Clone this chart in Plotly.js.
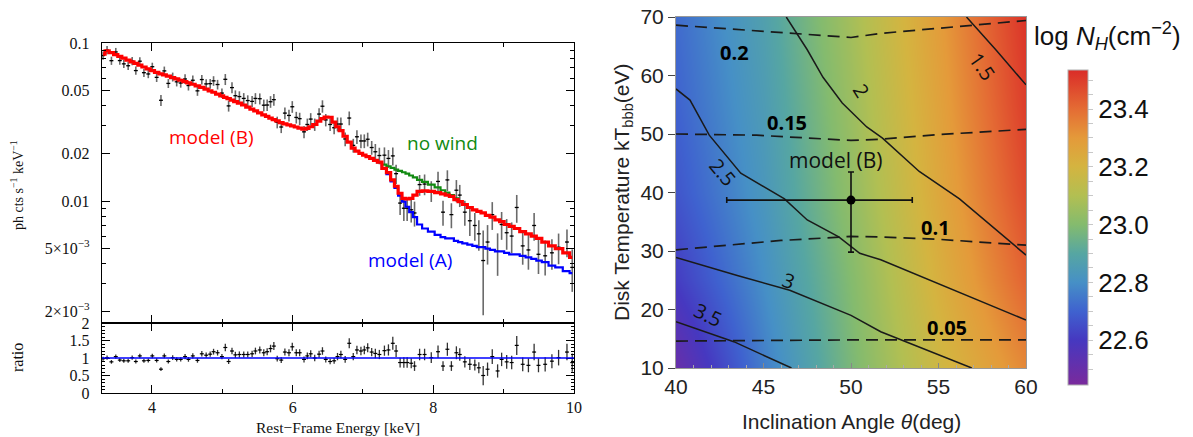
<!DOCTYPE html>
<html>
<head>
<meta charset="utf-8">
<script src="https://cdn.plot.ly/plotly-3.0.1.min.js"></script>
<style>html,body{margin:0;padding:0;background:#fff;}#chart{width:1193px;height:437px;}</style>
</head>
<body>
<div id="chart"></div>
<script>
// ---------- Left panel: spectrum (keV, ph cts s^-1 keV^-1) ----------
const energy = [
3.305,3.362,3.424,3.486,3.543,3.600,3.662,3.719,3.771,3.828,
3.886,3.948,4.005,4.067,4.128,4.176,4.233,4.295,4.352,4.409,
4.471,4.519,4.581,4.647,4.709,4.771,4.828,4.876,4.933,4.995,
5.043,5.090,5.138,5.186,5.243,5.305,5.362,5.424,5.471,5.533,
5.590,5.638,5.686,5.733,5.781,5.838,5.890,5.948,5.995,6.052,
6.100,6.162,6.209,6.257,6.314,6.376,6.424,6.471,6.533,6.590,
6.638,6.686,6.747,6.805,6.862,6.914,6.971,7.019,7.067,7.124,
7.176,7.233,7.305,7.362,7.424,7.471,7.528,7.581,7.628,7.686,
7.733,7.805,7.876,7.971,8.067,8.138,8.200,8.257,8.328,8.376,
8.448,8.519,8.590,8.647,8.709,8.771,8.838,8.914,8.971,9.043,
9.114,9.186,9.271,9.352,9.433,9.495,9.590,9.686,9.781,9.900,
9.975];
const counts = [
0.0833,0.0902,0.0773,0.0878,0.0774,0.0738,0.0718,0.0768,0.0669,0.0767,
0.0649,0.0637,0.0708,0.0606,0.0434,0.0666,0.0555,0.0610,0.0568,0.0558,
0.0592,0.0538,0.0581,0.0498,0.0587,0.0551,0.0553,0.0576,0.0546,0.0482,
0.0589,0.0400,0.0522,0.0464,0.0458,0.0446,0.0432,0.0427,0.0446,0.0444,
0.0404,0.0405,0.0425,0.0438,0.0315,0.0294,0.0360,0.0348,0.0395,0.0338,
0.0332,0.0274,0.0305,0.0330,0.0305,0.0355,0.0398,0.0326,0.0305,0.0291,
0.0307,0.0307,0.0247,0.0335,0.0225,0.0255,0.0240,0.0240,0.0246,0.0218,
0.0205,0.0194,0.0195,0.0186,0.0193,0.0149,0.0097,0.0090,0.0090,0.0088,
0.0084,0.0127,0.0128,0.0116,0.0133,0.0085,0.0136,0.0082,0.0117,0.0109,
0.0085,0.0075,0.0070,0.0062,0.0042,0.0055,0.0082,0.0048,0.0071,0.0063,
0.0060,0.0091,0.0052,0.0049,0.0070,0.0046,0.0045,0.0047,0.0051,0.0055,
0.0038];
const ratio = [
0.98,1.01,0.89,1.04,0.94,0.92,0.92,1.01,0.90,1.06,
0.92,0.93,1.06,0.93,0.68,1.06,0.90,1.01,0.96,0.96,
1.04,0.96,1.06,0.93,1.12,1.08,1.11,1.18,1.15,1.04,
1.30,0.90,1.20,1.09,1.10,1.10,1.10,1.12,1.20,1.23,
1.15,1.18,1.27,1.34,0.98,0.94,1.17,1.15,1.32,1.15,
1.15,0.96,1.06,1.12,1.00,1.11,1.20,0.96,0.90,0.92,
1.04,1.10,0.96,1.42,1.04,1.23,1.20,1.23,1.29,1.17,
1.13,1.10,1.21,1.23,1.42,1.20,0.87,0.87,0.87,0.85,
0.77,1.10,1.10,1.01,1.18,0.77,1.25,0.77,1.15,1.10,
0.89,0.82,0.80,0.72,0.50,0.68,1.04,0.63,0.96,0.89,
0.87,1.36,0.82,0.79,1.17,0.79,0.82,0.91,1.01,1.17,
0.87];
const relErr = [
0.06,0.06,0.06,0.06,0.06,0.06,0.06,0.06,0.06,0.06,
0.06,0.06,0.06,0.065,0.08,0.065,0.065,0.065,0.065,0.065,
0.07,0.07,0.07,0.07,0.07,0.07,0.07,0.07,0.07,0.07,
0.08,0.08,0.08,0.08,0.08,0.08,0.08,0.08,0.08,0.08,
0.085,0.085,0.085,0.085,0.085,0.085,0.085,0.085,0.085,0.085,
0.09,0.09,0.09,0.09,0.09,0.09,0.09,0.09,0.09,0.09,
0.10,0.10,0.10,0.10,0.10,0.10,0.10,0.10,0.10,0.10,
0.12,0.12,0.12,0.13,0.13,0.14,0.16,0.17,0.17,0.17,
0.18,0.15,0.15,0.15,0.15,0.18,0.15,0.18,0.16,0.16,
0.18,0.20,0.20,0.22,0.55,0.28,0.20,0.30,0.20,0.22,
0.22,0.20,0.24,0.25,0.20,0.25,0.25,0.22,0.22,0.20,
0.30];
const modelB = [
0.0850,0.0893,0.0868,0.0844,0.0823,0.0802,0.0780,0.0760,0.0743,0.0724,
0.0705,0.0685,0.0668,0.0652,0.0638,0.0628,0.0617,0.0604,0.0592,0.0581,
0.0569,0.0560,0.0548,0.0536,0.0524,0.0510,0.0498,0.0488,0.0475,0.0463,
0.0453,0.0444,0.0435,0.0426,0.0416,0.0405,0.0393,0.0381,0.0372,0.0361,
0.0351,0.0343,0.0335,0.0327,0.0321,0.0313,0.0308,0.0303,0.0299,0.0294,
0.0289,0.0285,0.0288,0.0295,0.0305,0.0320,0.0332,0.0340,0.0339,0.0316,
0.0295,0.0279,0.0257,0.0236,0.0216,0.0207,0.0200,0.0195,0.0191,0.0186,
0.0181,0.0176,0.0161,0.0151,0.0136,0.0124,0.0112,0.0104,0.0103,0.0104,
0.0109,0.0115,0.0116,0.0115,0.0113,0.0111,0.0109,0.0107,0.0102,0.0099,
0.0095,0.0091,0.0088,0.0086,0.0084,0.0081,0.0079,0.0076,0.0074,0.0071,
0.0069,0.0067,0.0064,0.0062,0.0060,0.0058,0.0055,0.0052,0.0050,0.0047,
0.0044];
const tailEnergy = [
7.124,7.176,7.233,7.305,7.362,7.424,7.471,7.528,7.581,7.628,
7.686,7.733,7.805,7.876,7.971,8.067,8.138,8.200,8.257,8.328,
8.376,8.448,8.519,8.590,8.647,8.709,8.771,8.838,8.914,8.971,
9.043,9.114,9.186,9.271,9.352,9.433,9.495,9.590,9.686,9.781,
9.900,9.975];
const modelA = [
0.0186,0.0181,0.0176,0.0160,0.0148,0.0133,0.0121,0.0108,0.0099,0.0092,
0.0085,0.0079,0.0071,0.0067,0.0064,0.0061,0.0059,0.0058,0.0058,0.0056,
0.0055,0.0054,0.0053,0.0052,0.0051,0.0051,0.0050,0.0049,0.0048,0.0048,
0.0047,0.0046,0.0046,0.0045,0.0044,0.0043,0.0042,0.0041,0.0039,0.0038,
0.0036,0.0035];
const noWind = [
0.0186,0.0181,0.0176,0.0170,0.0166,0.0162,0.0158,0.0155,0.0152,0.0149,
0.0145,0.0141,0.0136,0.0132,0.0127,0.0122,0.0117,0.0113,0.0109,0.0104,
0.0100,0.0095,0.0091];
const ratioRef = 1;
const specTickVals = [0.002,0.005,0.01,0.02,0.05,0.1];
const specTickText = ['2×10<sup>−3</sup>','5×10<sup>−3</sup>','0.01','0.02','0.05','0.1'];
const specMinorVals = [0.003,0.004,0.006,0.007,0.008,0.009,0.03,0.04,0.06,0.07,0.08,0.09];
const ratioTickVals = [0,0.5,1,1.5,2];
const ratioTickText = ['0','0.5','1','1.5','2'];
const energyTickVals = [4,6,8,10];

// ---------- Right panel: log N_H map ----------
const nhTheta = [40,45,50,55,60];
const nhTemp = [10,25,40,55,70];
const nhGrid = [
  [22.50,22.76,22.98,23.18,23.34],
  [22.61,22.80,23.00,23.22,23.42],
  [22.67,22.83,23.03,23.25,23.47],
  [22.70,22.85,23.05,23.27,23.50],
  [22.72,22.87,23.07,23.29,23.52]];
const cbTickVals = [22.5,22.55,22.6,22.65,22.7,22.75,22.8,22.85,22.9,22.95,23.0,23.05,23.1,23.15,23.2,23.25,23.3,23.35,23.4,23.45,23.5];
const cbTickText = ['','','22.6','','','','22.8','','','','23.0','','','','23.2','','','','23.4','',''];
// solid contours
const c15Theta=[56.6,58.3,60],  c15Temp=[70,64.3,58.4];
const c20Theta=[46.3,47.5,48.4,49.5,50.9,51.8,53.9,56.2,60], c20Temp=[70,64.4,59.7,55.3,51.2,49.3,43.6,38.9,29.3];
const c25Theta=[40,40.8,41.9,43.7,46.2,47.5,49.3,50.5,51.7,53.4,60], c25Temp=[57.7,55.8,49.8,43.3,38.9,35.3,32.4,29.6,28.5,26.4,18.2];
const c30Theta=[40,43.5,46.5,50,51.7,53.4,56.9], c30Temp=[28.9,25.8,23.3,19.0,16.2,14.2,10];
const c35Theta=[40,43.3,46.6], c35Temp=[17.9,14.5,10];
// dashed contours
const d020Theta=[40,43,47,50,51.7,57,60], d020Temp=[68.6,68.0,67.2,66.5,67.2,68.6,69.4];
const d015Theta=[40,44.6,50,51.7,55,60], d015Temp=[50.0,49.8,48.9,49.1,49.9,50.8];
const d010Theta=[40,43,46,48.4,50,51.7,55,60], d010Temp=[30.2,31.0,31.8,32.2,32.5,32.4,32.0,31.0];
const d005Theta=[40,50,60], d005Temp=[14.6,14.8,14.8];
// best fit point
const bestTheta=[50], bestTemp=[38.7];
const bestThetaErrPlus=[3.5], bestThetaErrMinus=[7.1];
const bestTempErrPlus=[4.8], bestTempErrMinus=[8.9];

// ---------- traces ----------
const specErr = counts.map((c,i)=>c*relErr[i]);
const ratioErr = ratio.map((r,i)=>r*relErr[i]);
const serif = 'Liberation Serif, Times New Roman, serif';
const sans = 'Liberation Sans, Arial, sans-serif';

const traces = [
  {type:'scatter', mode:'markers', x:energy, y:counts, xaxis:'x', yaxis:'y',
   marker:{size:1, color:'#000'},
   error_y:{type:'data', array:specErr, color:'#6a6a6a', thickness:1.6, width:0},
   error_x:{type:'constant', value:0.028, color:'#000', thickness:1.3, width:0}},
  {type:'scatter', mode:'lines', x:tailEnergy, y:modelA, xaxis:'x', yaxis:'y',
   line:{color:'#0000ff', width:2.2, shape:'hvh'}},
  {type:'scatter', mode:'lines', x:tailEnergy.slice(0,noWind.length), y:noWind, xaxis:'x', yaxis:'y',
   line:{color:'#118a11', width:2.2, shape:'hvh'}},
  {type:'scatter', mode:'lines', x:energy, y:modelB, xaxis:'x', yaxis:'y',
   line:{color:'#ff0000', width:3.2, shape:'hvh'}},
  {type:'scatter', mode:'markers', x:energy, y:ratio, xaxis:'x2', yaxis:'y2',
   marker:{size:1, color:'#000'},
   error_y:{type:'data', array:ratioErr, color:'#333', thickness:1.3, width:0},
   error_x:{type:'constant', value:0.028, color:'#000', thickness:1.2, width:0}},
  {type:'heatmap', x:nhTheta, y:nhTemp, z:nhGrid, xaxis:'x3', yaxis:'y3', zsmooth:'best',
   zmin:22.445, zmax:23.535,
   colorscale:[[0,'#7a2a9c'],[0.142,'#4638c0'],[0.234,'#3f62cf'],[0.326,'#4690c6'],[0.417,'#56a6a2'],
               [0.509,'#84bb6e'],[0.601,'#b2bf52'],[0.693,'#d4b440'],[0.784,'#e49a3a'],[0.876,'#e46c34'],[1,'#da2c28']],
   colorbar:{x:1068/1193, xanchor:'left', xpad:0, y:1-385/437, yanchor:'bottom', ypad:0,
     len:315/437, lenmode:'fraction', thickness:20, thicknessmode:'pixels',
     outlinewidth:1, outlinecolor:'#b0b0b0',
     tickvals:cbTickVals, ticktext:cbTickText, ticks:'outside', ticklen:5, tickcolor:'#c8c8c8',
     tickfont:{family:sans, size:26, color:'#111'}}}
];
function cline(x,y,dash){
  return {type:'scatter', mode:'lines', x:x, y:y, xaxis:'x3', yaxis:'y3', hoverinfo:'skip',
    line:{color:'#1a1a1a', width:dash?1.7:1.5, dash:dash?'12px,7px':'solid'}};
}
traces.push(cline(c15Theta,c15Temp,false), cline(c20Theta,c20Temp,false), cline(c25Theta,c25Temp,false),
  cline(c30Theta,c30Temp,false), cline(c35Theta,c35Temp,false),
  cline(d020Theta,d020Temp,true), cline(d015Theta,d015Temp,true), cline(d010Theta,d010Temp,true), cline(d005Theta,d005Temp,true));
traces.push({type:'scatter', mode:'markers', x:bestTheta, y:bestTemp, xaxis:'x3', yaxis:'y3',
  marker:{size:9, color:'#000'},
  error_x:{type:'data', symmetric:false, array:bestThetaErrPlus, arrayminus:bestThetaErrMinus, color:'#111', thickness:1.6, width:3},
  error_y:{type:'data', symmetric:false, array:bestTempErrPlus, arrayminus:bestTempErrMinus, color:'#111', thickness:1.6, width:3}});

// ---------- layout ----------
const leftDom = [102/1193, 574/1193];
const axBase = {showline:true, linecolor:'#000', linewidth:1.2, mirror:'allticks', ticks:'inside', ticklen:8, tickwidth:1, tickcolor:'#000',
  showgrid:false, zeroline:false, tickfont:{family:serif, size:16, color:'#111'}};
const rBase = {showline:true, linecolor:'#999', linewidth:1, mirror:true, showgrid:false, zeroline:false,
  tickfont:{family:sans, size:21, color:'#222'}};

function ann(text,x,y,xref,yref,size,color,family,extra){
  return Object.assign({text:text, x:x, y:y, xref:xref, yref:yref, showarrow:false, xanchor:'center', yanchor:'middle',
    font:{size:size, color:color, family:family}}, extra||{});
}
const osans = 'Open Sans, Liberation Sans, sans-serif';
const layout = {
  width:1193, height:437, margin:{l:0,r:0,t:0,b:0}, paper_bgcolor:'#fff', plot_bgcolor:'#fff', showlegend:false,
  xaxis:Object.assign({}, axBase, {domain:leftDom, anchor:'y', range:[3.29,10.0], tickvals:energyTickVals, showticklabels:false,
     minor:{dtick:1, tick0:0, ticks:'inside', ticklen:4, tickcolor:'#000'}}),
  yaxis:Object.assign({}, axBase, {domain:[1-323/437, 1-43/437], anchor:'x', type:'log', range:[Math.log10(0.00169), -1],
     tickvals:specTickVals, ticktext:specTickText, ticklabelstandoff:8,
     minor:{tickvals:specMinorVals, ticks:'inside', ticklen:4, tickcolor:'#000'}}),
  xaxis2:Object.assign({}, axBase, {domain:leftDom, anchor:'y2', range:[3.29,10.0], tickvals:energyTickVals, ticklabelstandoff:0,
     minor:{dtick:1, tick0:0, ticks:'inside', ticklen:4, tickcolor:'#000'}}),
  yaxis2:Object.assign({}, axBase, {domain:[1-393/437, 1-323/437], anchor:'x2', range:[0,2], tickvals:ratioTickVals, ticktext:ratioTickText,
     ticklabelstandoff:8, minor:{dtick:0.1, ticks:'inside', ticklen:3, tickcolor:'#000'}}),
  xaxis3:Object.assign({}, rBase, {domain:[676/1193, 1026/1193], anchor:'y3', range:[40,60], dtick:5, ticks:'inside', ticklen:5, tickcolor:'#888',
     minor:{dtick:1, ticks:'inside', ticklen:3, tickcolor:'#aaa'}}),
  yaxis3:Object.assign({}, rBase, {domain:[1-368/437, 1-17/437], anchor:'x3', range:[10,70], dtick:10, ticks:'outside', ticklen:7, tickcolor:'#444'}),
  shapes:[{type:'line', xref:'x2 domain', x0:0, x1:1, yref:'y2', y0:ratioRef, y1:ratioRef, line:{color:'#0000ff', width:1.6}}],
  annotations:[
    ann('ph cts s<sup>−1</sup> keV<sup>−1</sup>', 17/1193, 1-185/437, 'paper','paper', 14, '#111', serif, {textangle:-90}),
    ann('ratio', 17/1193, 1-358/437, 'paper','paper', 16, '#111', serif, {textangle:-90}),
    ann('Rest−Frame Energy [keV]', 338/1193, 1-427/437, 'paper','paper', 15.5, '#111', serif),
    ann('model (B)', 4.84, -1.595, 'x','y', 19, '#ff0000', osans),
    ann('no wind', 8.13, -1.633, 'x','y', 19, '#118a11', osans),
    ann('model (A)', 7.67, -2.373, 'x','y', 19, '#0000ff', osans),
    ann('Disk Temperature kT<sub>bbb</sub>(eV)', 623/1193, 1-192/437, 'paper','paper', 21, '#222', sans, {textangle:-90}),
    ann('Inclination Angle <i>θ</i>(deg)', 851/1193, 1-421/437, 'paper','paper', 21, '#222', sans),
    ann('log <i>N</i><sub><i>H</i></sub>(cm<sup>−2</sup>)', 1107/1193, 1-36/437, 'paper','paper', 26, '#111', sans),
    ann('<b>0.2</b>', 43.37, 64.0, 'x3','y3', 20, '#000', osans),
    ann('<b>0.15</b>', 46.34, 51.9, 'x3','y3', 20, '#000', osans),
    ann('<b>0.1</b>', 54.8, 34.1, 'x3','y3', 20, '#000', osans),
    ann('<b>0.05</b>', 55.5, 17.0, 'x3','y3', 20, '#000', osans),
    ann('model (B)', 49.09, 45.6, 'x3','y3', 21, '#111', osans),
    ann('2', 50.6, 57.5, 'x3','y3', 20, '#111', osans, {textangle:58}),
    ann('1.5', 57.5, 61.5, 'x3','y3', 20, '#111', osans, {textangle:55}),
    ann('2.5', 42.7, 43.5, 'x3','y3', 20, '#111', osans, {textangle:50}),
    ann('3', 46.4, 25.0, 'x3','y3', 20, '#111', osans, {textangle:20}),
    ann('3.5', 41.8, 19.1, 'x3','y3', 20, '#111', osans, {textangle:25})
  ]
};
Plotly.newPlot('chart', traces, layout, {displayModeBar:false, staticPlot:true});
</script>
</body>
</html>
